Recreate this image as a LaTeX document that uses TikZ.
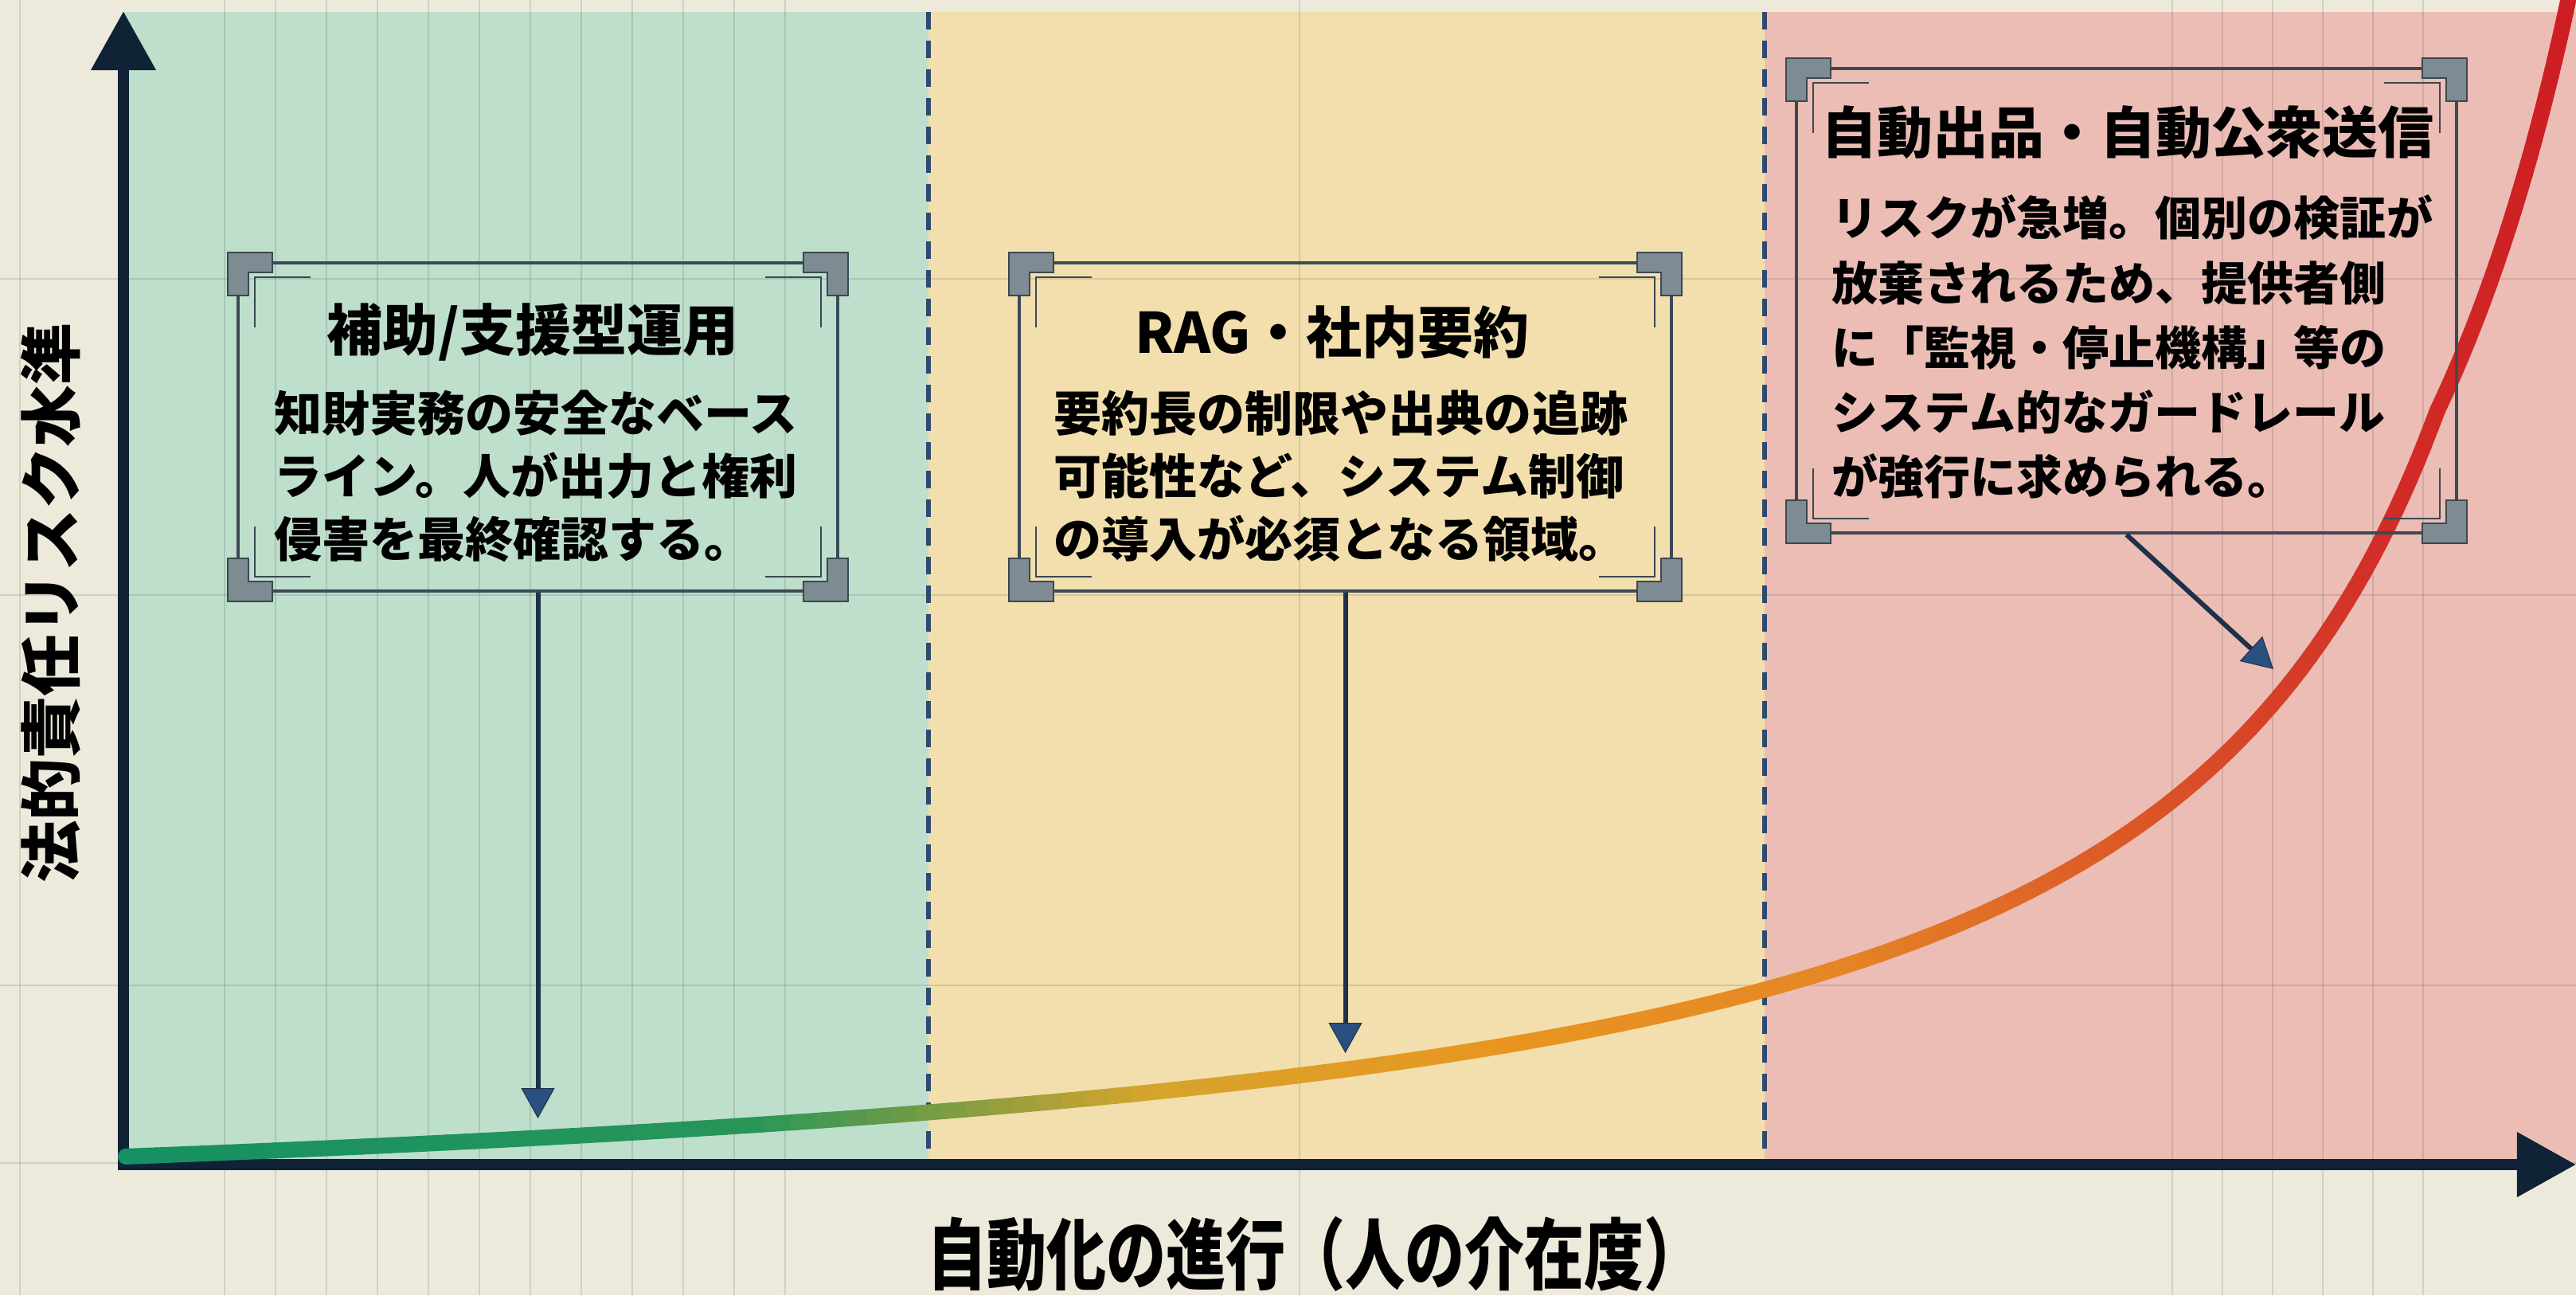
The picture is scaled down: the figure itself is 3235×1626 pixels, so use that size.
\documentclass[tikz,border=0pt]{standalone}
\usepackage{fontspec}
\usepackage{graphicx}
\setmainfont{Noto Sans CJK JP}
\usetikzlibrary{arrows.meta}

\definecolor{bgc}{HTML}{EDEADC}
\definecolor{greenreg}{HTML}{BEDFCB}
\definecolor{yellowreg}{HTML}{F2DFAD}
\definecolor{redreg}{HTML}{EBBDB5}
\definecolor{axisc}{HTML}{0F2236}
\definecolor{dashc}{HTML}{2E4A6E}
\definecolor{framec}{HTML}{3C4A55}
\definecolor{brkfill}{HTML}{7E8B92}
\definecolor{brkdraw}{HTML}{3A4852}
\definecolor{connc}{HTML}{1E3149}
\definecolor{connhead}{HTML}{2A5080}

\begin{document}
\begin{tikzpicture}[x=0.01cm,y=-0.01cm,
  declare function={ramp(\x,\y,\z)=min(1,max(0,(\x-\y)/(\z-\y)));
                    cx(\x)=\x+38*ramp(\x,3060,3190);
                    cy(\x)=1452-100*(41.345/(34.5-\x/100)-1.2548);},
  gridl/.style={draw=black,opacity=0.11,line width=0.02cm},
  zonedash/.style={draw=dashc,line width=0.06cm,dash pattern=on 0.22cm off 0.14cm},
  axisline/.style={draw=axisc,line width=0.14cm,-{Triangle[length=0.74cm,width=0.78cm]}},
  frame/.style={draw=framec,line width=0.04cm,inner sep=0pt,fill=none},
  brkstyle/.style={fill=brkfill,draw=brkdraw,line width=0.025cm,line join=miter},
  cornermark/.style={draw=brkdraw,line width=0.015cm},
  conn/.style={draw=connc,line width=0.06cm,-{Triangle[length=0.38cm,width=0.42cm,fill=connhead,line width=0.01cm]}},
  titletext/.style={font=\bfseries\fontsize{19.9pt}{24pt}\selectfont,inner sep=0pt,text=black},
  bodytext/.style={font=\bfseries\fontsize{17.07pt}{22.48pt}\selectfont,align=left,inner sep=0pt,text=black},
  bodytextc/.style={font=\bfseries\fontsize{16.5pt}{23.05pt}\selectfont,align=left,inner sep=0pt,text=black},
  ylabelstyle/.style={font=\bfseries\fontsize{22.2pt}{26pt}\selectfont,inner sep=0pt,text=black},
  xlabelstyle/.style={font=\bfseries\fontsize{21.34pt}{26pt}\selectfont,inner sep=0pt,text=black},
  brk/.pic={
    \filldraw[brkstyle] (0,0) -- (56,0) -- (56,25) -- (26,25) -- (26,54) -- (0,54) -- cycle;
    \draw[cornermark] (34,94) -- (34,31) -- (104,31);
  }
]
\useasboundingbox (0,0) rectangle (3235,1626);
\clip (0,0) rectangle (3235,1626);
\fill[bgc] (0,0) rectangle (3235,1626);

% zones
\fill[greenreg] (155,15) rectangle (1166,1462);
\fill[yellowreg] (1166,15) rectangle (2216,1462);
\fill[redreg] (2216,15) rectangle (3235,1462);

% grid
\foreach \gx in {25,282,346,410,474,538,602,666,730,794,858,922,986,1632,2728,2791,2854,2917,2980,3043}
  \draw[gridl] (\gx,0) -- (\gx,1626);
\foreach \gy in {350,747,1237,1460}
  \draw[gridl] (0,\gy) -- (3235,\gy);

% zone borders
\draw[zonedash] (1166,15) -- (1166,1462);
\draw[zonedash] (2216,15) -- (2216,1462);

% axes
\coordinate (O) at (155,1462);
\coordinate (ytip) at (155,14);
\coordinate (xtip) at (3235,1462);
\draw[axisline] (148,1462) -- (xtip);
\draw[axisline] (155,1469) -- (ytip);

% risk curve with colour gradient
\foreach \i in {0,...,159} {
  \pgfmathsetmacro\sa{\i/160}
  \pgfmathsetmacro\sb{(\i+1)/160}
  \pgfmathsetmacro\ua{158+3040*(1-(1-\sa)^2)}
  \pgfmathsetmacro\ub{158+3040*(1-(1-\sb)^2)}
  \pgfmathsetmacro\xa{cx(\ua)}
  \pgfmathsetmacro\xb{cx(\ub)}
  \pgfmathsetmacro\ya{cy(\ua)}
  \pgfmathsetmacro\yb{cy(\ub)}
  \pgfmathsetmacro\xm{(\xa+\xb)/2}
  \pgfmathtruncatemacro\segR{22+18*ramp(\xm,155,950)+175*ramp(\xm,950,1450)+17*ramp(\xm,1450,1900)-2*ramp(\xm,1900,2300)-12*ramp(\xm,2300,2750)-8*ramp(\xm,2750,3000)-5*ramp(\xm,3000,3230)}
  \pgfmathtruncatemacro\segG{145+5*ramp(\xm,155,950)+15*ramp(\xm,950,1450)-15*ramp(\xm,1450,1900)-15*ramp(\xm,1900,2300)-55*ramp(\xm,2300,2750)-35*ramp(\xm,2750,3000)-15*ramp(\xm,3000,3230)}
  \pgfmathtruncatemacro\segB{100-10*ramp(\xm,155,950)-45*ramp(\xm,950,1450)-13*ramp(\xm,1450,1900)+6*ramp(\xm,1900,2300)+2*ramp(\xm,2300,2750)-5*ramp(\xm,3000,3230)}
  \definecolor{segc}{RGB}{\segR,\segG,\segB}
  \draw[line width=0.2cm,segc,line cap=round] (\xa,\ya) -- (\xb,\yb);
}

% boxes
\node[frame,minimum width=7.53cm,minimum height=4.12cm] (b1) at (675.5,536) {};
\node[frame,minimum width=8.19cm,minimum height=4.12cm] (b2) at (1689.5,536) {};
\node[frame,minimum width=8.29cm,minimum height=5.83cm] (b3) at (2670.5,377.5) {};

% corner brackets
\foreach \xl/\yt/\xr/\yb in {286/317/1065/755, 1267/317/2112/755, 2243/73/3098/682} {
  \pic at (\xl,\yt) {brk};
  \pic[xscale=-1] at (\xr,\yt) {brk};
  \pic[yscale=-1] at (\xl,\yb) {brk};
  \pic[xscale=-1,yscale=-1] at (\xr,\yb) {brk};
}

% connectors
\coordinate (p1) at (675.5,1404);
\coordinate (p2) at (1689.5,1322);
\coordinate (p3) at (2855,840);
\draw[conn] (b1.south) -- (p1);
\draw[conn] (b2.south) -- (p2);
\draw[conn] (b3.south) -- (p3);

% box texts
\node[titletext] (h1) at (669,417) {補助/支援型運用};
\node[bodytext,anchor=west] (d1) at (344,598) {知財実務の安全なベース\\ライン。人が出力と権利\\侵害を最終確認する。};

\node[titletext] (h2) at (1673,417) {RAG・社内要約};
\node[bodytext,anchor=west] (d2) at (1323,598) {要約長の制限や出典の追跡\\可能性など、システム制御\\の導入が必須となる領域。};

\node[titletext] (h3) at (2672,166) {自動出品・自動公衆送信};
\node[bodytextc,anchor=west] (d3) at (2300,435.5) {リスクが急増。個別の検証が\\放棄されるため、提供者側\\に「監視・停止機構」等の\\システム的なガードレール\\が強行に求められる。};

% axis labels
\node[ylabelstyle,rotate=90] (ylab) at (64,757) {法的責任リスク水準};
\node[xlabelstyle] (xlab) at (1652,1574) {\scalebox{1}[1.3]{自動化の進行（人の介在度）}};
\end{tikzpicture}
\end{document}
